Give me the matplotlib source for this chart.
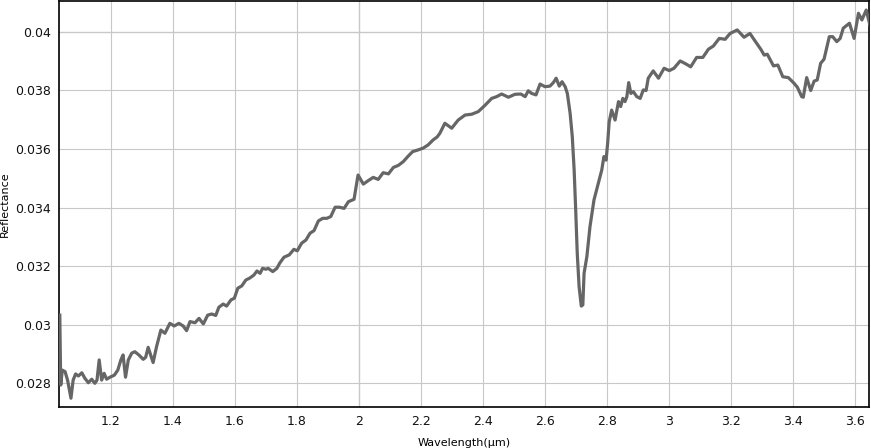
import matplotlib
matplotlib.use("Agg")
import matplotlib.pyplot as plt
from matplotlib.ticker import FuncFormatter, MultipleLocator

# spectrum
wavelength = [
    1.035, 1.038, 1.043, 1.052, 1.060, 1.071, 1.078, 1.086, 1.095, 1.106,
    1.116, 1.127, 1.138, 1.148, 1.155, 1.162, 1.170, 1.178, 1.186, 1.197,
    1.211, 1.222, 1.232, 1.239, 1.247, 1.256, 1.267, 1.277, 1.290, 1.304,
    1.312, 1.320, 1.336, 1.347, 1.361, 1.374, 1.390, 1.404, 1.419, 1.433,
    1.444, 1.455, 1.471, 1.484, 1.498, 1.512, 1.525, 1.538, 1.548, 1.562,
    1.573, 1.587, 1.598, 1.609, 1.622, 1.635, 1.648, 1.661, 1.671, 1.681,
    1.689, 1.700, 1.707, 1.722, 1.735, 1.745, 1.758, 1.775, 1.790, 1.801,
    1.815, 1.829, 1.842, 1.855, 1.869, 1.883, 1.896, 1.909, 1.923, 1.937,
    1.952, 1.966, 1.984, 1.997, 2.014, 2.030, 2.046, 2.062, 2.078, 2.095,
    2.111, 2.127, 2.143, 2.159, 2.173, 2.191, 2.207, 2.223, 2.239, 2.252,
    2.261, 2.277, 2.299, 2.320, 2.342, 2.364, 2.385, 2.407, 2.428, 2.444,
    2.460, 2.482, 2.503, 2.522, 2.536, 2.546, 2.557, 2.571, 2.584, 2.600,
    2.616, 2.627, 2.636, 2.646, 2.655, 2.665, 2.672, 2.681, 2.688, 2.694,
    2.699, 2.704, 2.710, 2.717, 2.722, 2.726, 2.735, 2.745, 2.758, 2.772,
    2.783, 2.790, 2.797, 2.802, 2.807, 2.815, 2.826, 2.837, 2.844, 2.851,
    2.858, 2.864, 2.870, 2.877, 2.885, 2.896, 2.907, 2.917, 2.926, 2.933,
    2.949, 2.966, 2.984, 3.001, 3.016, 3.036, 3.054, 3.070, 3.089, 3.109,
    3.127, 3.143, 3.162, 3.181, 3.197, 3.220, 3.242, 3.261, 3.277, 3.296,
    3.307, 3.317, 3.337, 3.351, 3.367, 3.385, 3.403, 3.414, 3.428, 3.433,
    3.444, 3.457, 3.468, 3.478, 3.489, 3.500, 3.517, 3.528, 3.541, 3.552,
    3.562, 3.582, 3.597, 3.611, 3.622, 3.636, 3.648,
]
reflectance = [
    0.03032, 0.02793, 0.02844, 0.02839, 0.02810, 0.02748, 0.02810, 0.02831, 0.02824, 0.02835,
    0.02816, 0.02801, 0.02813, 0.02799, 0.02810, 0.02879, 0.02810, 0.02833, 0.02813, 0.02820,
    0.02827, 0.02844, 0.02879, 0.02896, 0.02820, 0.02879, 0.02902, 0.02907, 0.02896, 0.02881,
    0.02888, 0.02922, 0.02870, 0.02924, 0.02981, 0.02970, 0.03004, 0.02995, 0.03004, 0.02995,
    0.02979, 0.03010, 0.03006, 0.03021, 0.03002, 0.03032, 0.03036, 0.03031, 0.03059, 0.03070,
    0.03063, 0.03084, 0.03090, 0.03124, 0.03132, 0.03152, 0.03159, 0.03169, 0.03183, 0.03175,
    0.03192, 0.03189, 0.03192, 0.03181, 0.03192, 0.03211, 0.03230, 0.03238, 0.03257, 0.03252,
    0.03278, 0.03289, 0.03312, 0.03321, 0.03354, 0.03363, 0.03363, 0.03369, 0.03401, 0.03401,
    0.03397, 0.03420, 0.03428, 0.03511, 0.03480, 0.03492, 0.03503, 0.03496, 0.03519, 0.03515,
    0.03537, 0.03544, 0.03557, 0.03576, 0.03591, 0.03597, 0.03603, 0.03614, 0.03631, 0.03641,
    0.03654, 0.03688, 0.03671, 0.03699, 0.03716, 0.03719, 0.03728, 0.03750, 0.03773, 0.03779,
    0.03788, 0.03777, 0.03787, 0.03788, 0.03779, 0.03799, 0.03790, 0.03785, 0.03822, 0.03813,
    0.03815, 0.03827, 0.03842, 0.03815, 0.03830, 0.03813, 0.03790, 0.03722, 0.03642, 0.03528,
    0.03391, 0.03243, 0.03129, 0.03063, 0.03067, 0.03175, 0.03232, 0.03334, 0.03426, 0.03483,
    0.03528, 0.03574, 0.03562, 0.03619, 0.03693, 0.03733, 0.03699, 0.03762, 0.03745, 0.03773,
    0.03762, 0.03779, 0.03827, 0.03790, 0.03796, 0.03779, 0.03773, 0.03802, 0.03800, 0.03842,
    0.03867, 0.03842, 0.03876, 0.03868, 0.03876, 0.03901, 0.03891, 0.03881, 0.03913, 0.03913,
    0.03941, 0.03952, 0.03978, 0.03975, 0.03995, 0.04007, 0.03982, 0.03995, 0.03970, 0.03941,
    0.03921, 0.03924, 0.03884, 0.03887, 0.03847, 0.03844, 0.03825, 0.03811, 0.03779, 0.03777,
    0.03844, 0.03800, 0.03832, 0.03836, 0.03893, 0.03907, 0.03984, 0.03984, 0.03967, 0.03978,
    0.04013, 0.04030, 0.03978, 0.04064, 0.04041, 0.04075, 0.04024,
]

x_min, x_max = 1.034, 3.645
y_min, y_max = 0.02718, 0.04106


def trim(v, pos):
    return f"{round(v, 4):g}"


fig = plt.figure(figsize=(8.71, 4.48), dpi=100)
ax = fig.add_axes([0.0683, 0.0915, 0.9294, 0.9063])

ax.grid(True, color="#c8c8c8", linewidth=0.8, zorder=0)
ax.axvline(2.0, color="#707070", linewidth=0.8, zorder=1)
ax.axhline(0.04, color="#707070", linewidth=0.8, zorder=1)

ax.plot(wavelength, reflectance, color="#666666", linewidth=2.3, zorder=3,
        solid_joinstyle="round")

ax.set_xlim(x_min, x_max)
ax.set_ylim(y_min, y_max)
ax.xaxis.set_major_locator(MultipleLocator(0.2))
ax.yaxis.set_major_locator(MultipleLocator(0.002))
ax.xaxis.set_major_formatter(FuncFormatter(trim))
ax.yaxis.set_major_formatter(FuncFormatter(trim))
ax.tick_params(length=0, labelsize=9, pad=6, colors="#111111")

for side in ax.spines.values():
    side.set_color("black")
    side.set_linewidth(1.2)

ax.set_xlabel("Wavelength(μm)", fontsize=8)
ax.set_ylabel("Reflectance", fontsize=8)
ax.xaxis.set_label_coords(0.5, -0.076)
ax.yaxis.set_label_coords(-0.061, 0.5)

fig.savefig("out.png", dpi=100)
